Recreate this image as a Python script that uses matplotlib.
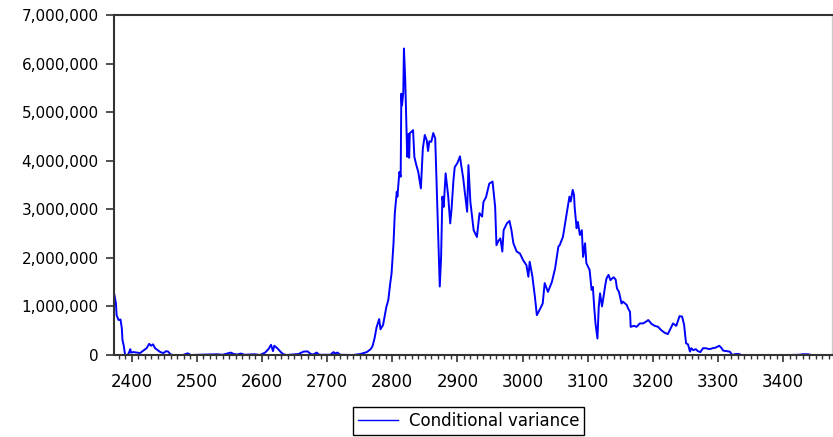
import matplotlib
matplotlib.use("Agg")
import matplotlib.pyplot as plt
from matplotlib.ticker import MultipleLocator, StrMethodFormatter

obs = [2373, 2376, 2377, 2380, 2383, 2385, 2386, 2388, 2390, 2394,
       2396, 2398, 2399, 2403, 2408, 2413, 2418, 2423, 2427, 2430,
       2433, 2436, 2440, 2444, 2449, 2453, 2456, 2460, 2464, 2479,
       2486, 2491, 2505, 2531, 2540, 2552, 2557, 2562, 2568, 2573,
       2589, 2597, 2605, 2610, 2614, 2617, 2619, 2622, 2625, 2629,
       2633, 2638, 2656, 2664, 2670, 2675, 2679, 2684, 2688, 2705,
       2710, 2712, 2716, 2720, 2740, 2751, 2761, 2767, 2770, 2773,
       2776, 2780, 2782, 2786, 2791, 2794, 2797, 2799, 2802, 2804,
       2807, 2808, 2811, 2813, 2814, 2815, 2817, 2818, 2820, 2822,
       2823, 2825, 2826, 2827, 2830, 2832, 2834, 2837, 2840, 2844,
       2847, 2850, 2853, 2855, 2857, 2860, 2863, 2866, 2868, 2871,
       2873, 2875, 2877, 2879, 2882, 2886, 2889, 2891, 2894, 2896,
       2900, 2904, 2906, 2909, 2911, 2915, 2917, 2920, 2925, 2930,
       2934, 2938, 2940, 2944, 2949, 2954, 2958, 2960, 2963, 2966,
       2969, 2971, 2976, 2980, 2983, 2986, 2991, 2996, 3001, 3006,
       3009, 3011, 3015, 3019, 3022, 3027, 3031, 3034, 3039, 3045,
       3050, 3055, 3057, 3062, 3068, 3072, 3074, 3077, 3079, 3080,
       3083, 3085, 3088, 3091, 3093, 3096, 3098, 3103, 3106, 3108,
       3110, 3112, 3115, 3117, 3119, 3122, 3124, 3127, 3129, 3132,
       3135, 3137, 3140, 3143, 3145, 3148, 3152, 3154, 3160, 3162,
       3165, 3166, 3171, 3175, 3180, 3185, 3190, 3193, 3198, 3203,
       3208, 3213, 3218, 3223, 3226, 3231, 3236, 3241, 3245, 3248,
       3251, 3254, 3257, 3259, 3262, 3266, 3269, 3273, 3277, 3281,
       3287, 3292, 3296, 3302, 3305, 3308, 3313, 3318, 3322, 3327,
       3332, 3336, 3410, 3425, 3430, 3438, 3444, 3475]

cond_var_mn = [1.28, 1.06, 0.82, 0.72, 0.73, 0.55, 0.31, 0.19, 0.0, 0.0,
               0.05, 0.12, 0.05, 0.06, 0.05, 0.04, 0.09, 0.14, 0.23, 0.19,
               0.22, 0.14, 0.10, 0.06, 0.04, 0.08, 0.07, 0.01, 0.0, 0.0,
               0.035, 0.0, 0.005, 0.015, 0.005, 0.05, 0.02, 0.01, 0.03, 0.005,
               0.015, 0.0, 0.05, 0.12, 0.21, 0.08, 0.19, 0.16, 0.12, 0.06,
               0.015, 0.0, 0.02, 0.07, 0.075, 0.02, 0.01, 0.05, 0.005, 0.005,
               0.06, 0.03, 0.05, 0.005, 0.0, 0.02, 0.06, 0.12, 0.19, 0.35,
               0.57, 0.74, 0.53, 0.62, 0.99, 1.13, 1.48, 1.68, 2.30, 2.92,
               3.36, 3.26, 3.77, 3.67, 5.38, 5.14, 5.40, 6.31, 5.66, 4.57,
               4.08, 4.55, 4.06, 4.57, 4.60, 4.63, 4.08, 3.91, 3.77, 3.43,
               4.25, 4.53, 4.42, 4.20, 4.40, 4.39, 4.57, 4.46, 3.60, 2.37,
               1.41, 2.00, 3.26, 3.05, 3.74, 3.26, 2.71, 2.99, 3.60, 3.87,
               3.95, 4.09, 3.90, 3.64, 3.40, 2.95, 3.91, 3.15, 2.57, 2.43,
               2.92, 2.85, 3.15, 3.25, 3.53, 3.57, 3.05, 2.26, 2.35, 2.40,
               2.13, 2.57, 2.71, 2.76, 2.57, 2.30, 2.13, 2.09, 1.95, 1.85,
               1.61, 1.92, 1.63, 1.20, 0.82, 0.95, 1.06, 1.48, 1.30, 1.50,
               1.78, 2.23, 2.26, 2.43, 2.92, 3.26, 3.16, 3.40, 3.30, 3.05,
               2.61, 2.74, 2.47, 2.57, 2.02, 2.30, 1.89, 1.75, 1.34, 1.40,
               0.99, 0.65, 0.34, 0.99, 1.27, 1.00, 1.17, 1.44, 1.58, 1.65,
               1.54, 1.57, 1.60, 1.55, 1.37, 1.30, 1.06, 1.10, 1.03, 0.96,
               0.89, 0.58, 0.60, 0.58, 0.65, 0.65, 0.69, 0.72, 0.64, 0.60,
               0.58, 0.51, 0.46, 0.43, 0.51, 0.65, 0.60, 0.80, 0.79, 0.62,
               0.24, 0.22, 0.07, 0.14, 0.10, 0.12, 0.08, 0.06, 0.14, 0.14,
               0.12, 0.14, 0.15, 0.19, 0.15, 0.09, 0.08, 0.07, 0.0, 0.02,
               0.02, 0.0, 0.0, 0.005, 0.015, 0.015, 0.0, 0.0]

y_ticks = [0, 1000000, 2000000, 3000000, 4000000, 5000000, 6000000, 7000000]
series_label = "Conditional variance"

plt.rcParams['font.family'] = ['DejaVu Sans']

fig = plt.figure(figsize=(8.33, 4.37), dpi=100)
ax = fig.add_axes([114 / 833, 82 / 437, 718 / 833, 340 / 437])

ax.plot(obs, [v * 1e6 for v in cond_var_mn], color='#0000ff', lw=1.4,
        label=series_label)

ax.set_xlim(2373, 3475)
ax.set_ylim(0, 7000000)
ax.set_yticks(y_ticks)
ax.yaxis.set_major_formatter(StrMethodFormatter('{x:,.0f}'))
ax.xaxis.set_major_locator(MultipleLocator(100))
ax.xaxis.set_minor_locator(MultipleLocator(10))

ax.tick_params(axis='y', length=6, width=1.2, pad=5, labelsize=11,
               color='#333333')
ax.tick_params(axis='x', which='major', length=5, width=1.2, pad=8,
               labelsize=12, color='#333333')
ax.tick_params(axis='x', which='minor', length=3, width=1.0,
               color='#333333')

for side in ['left', 'bottom', 'top']:
    ax.spines[side].set_linewidth(1.5)
    ax.spines[side].set_color('#333333')
ax.spines['right'].set_color('#cccccc')
ax.spines['right'].set_linewidth(1.0)

leg = ax.legend(loc='center', bbox_to_anchor=(468.5 / 833, 1 - 421 / 437),
                bbox_transform=fig.transFigure, fontsize=12,
                fancybox=False, framealpha=1, edgecolor='black',
                handlelength=2.4, handletextpad=0.65, borderpad=0.3,
                borderaxespad=0)
leg.get_frame().set_linewidth(1.0)
leg.get_lines()[0].set_linewidth(1.0)

fig.savefig('out.png', dpi=100)
